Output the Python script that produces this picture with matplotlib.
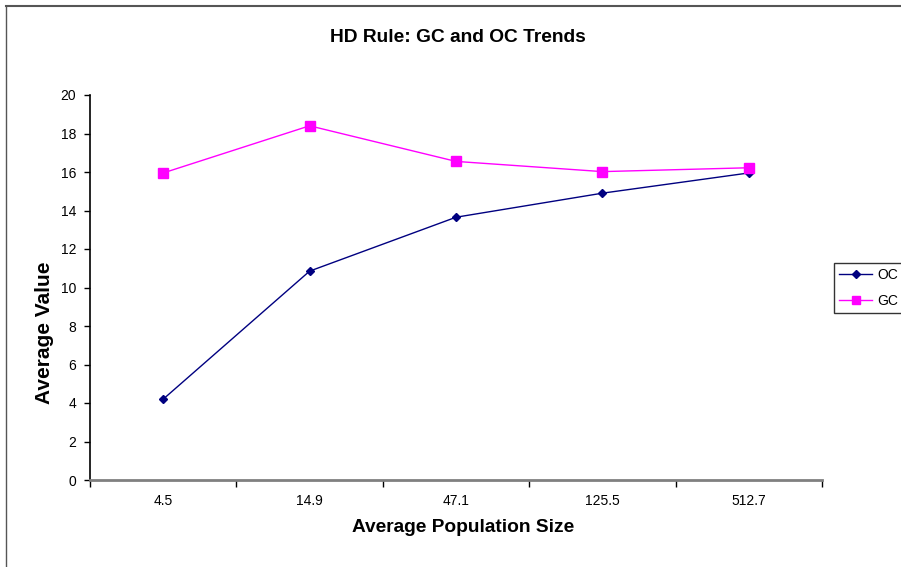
import matplotlib
matplotlib.use("Agg")
import matplotlib.pyplot as plt
from matplotlib.lines import Line2D

plt.rcParams['font.family'] = ['Liberation Sans', 'DejaVu Sans']

categories = ["4.5", "14.9", "47.1", "125.5", "512.7"]
oc_values = [4.2, 10.85, 13.65, 14.9, 15.95]
gc_values = [15.95, 18.4, 16.55, 16.02, 16.22]
y_ticks = [0, 2, 4, 6, 8, 10, 12, 14, 16, 18, 20]

fig = plt.figure(figsize=(9.01, 5.67), dpi=100)

# outer chart frame (top and left edges visible)
fig.add_artist(Line2D([6/901, 1.0], [1 - 6/567, 1 - 6/567], transform=fig.transFigure,
                      color='#555555', lw=1.5))
fig.add_artist(Line2D([6/901, 6/901], [0, 1 - 6/567], transform=fig.transFigure,
                      color='#555555', lw=1.0))

ax = fig.add_axes([90/901, 1 - 480/567, 732/901, 385/567])
x = list(range(len(categories)))
ax.plot(x, oc_values, color='#000080', lw=1.0, marker='D', markersize=4.5, label='OC')
ax.plot(x, gc_values, color='#FF00FF', lw=1.0, marker='s', markersize=6.5, label='GC')

ax.set_xlim(-0.5, len(categories) - 0.5)
ax.set_ylim(0, 20)
ax.set_yticks(y_ticks)
ax.set_yticklabels([str(v) for v in y_ticks], fontsize=10)
ax.set_xticks(x)
ax.set_xticklabels(categories, fontsize=10)
ax.set_xticks([i - 0.5 for i in range(len(categories) + 1)], minor=True)
ax.tick_params(axis='x', which='major', length=0, pad=10)
ax.tick_params(axis='x', which='minor', length=5, width=1, color='black', direction='out')
ax.tick_params(axis='y', length=4, width=1, direction='out', pad=6)

for side in ['top', 'right']:
    ax.spines[side].set_visible(False)
ax.spines['left'].set_linewidth(1.2)
ax.spines['bottom'].set_color('#808080')
ax.spines['bottom'].set_linewidth(2)

fig.text(463/901, 1 - 528/567, 'Average Population Size', fontsize=13.8, fontweight='bold',
         ha='center', va='center')
fig.text(44/901, 1 - 333/567, 'Average Value', fontsize=15, fontweight='bold',
         ha='center', va='center', rotation=90)
fig.text(458/901, 1 - 38/567, 'HD Rule: GC and OC Trends', fontsize=13.8, fontweight='bold',
         ha='center', va='center')

leg = fig.legend(loc='center left', bbox_to_anchor=(834/901, 1 - 288/567), fontsize=10,
                 frameon=True, fancybox=False, edgecolor='black', handlelength=2.4,
                 borderpad=0.35, labelspacing=0.85, handletextpad=0.35, markerscale=0.85,
                 borderaxespad=0)
leg.get_frame().set_linewidth(1.0)

fig.savefig('out.png', dpi=100)
